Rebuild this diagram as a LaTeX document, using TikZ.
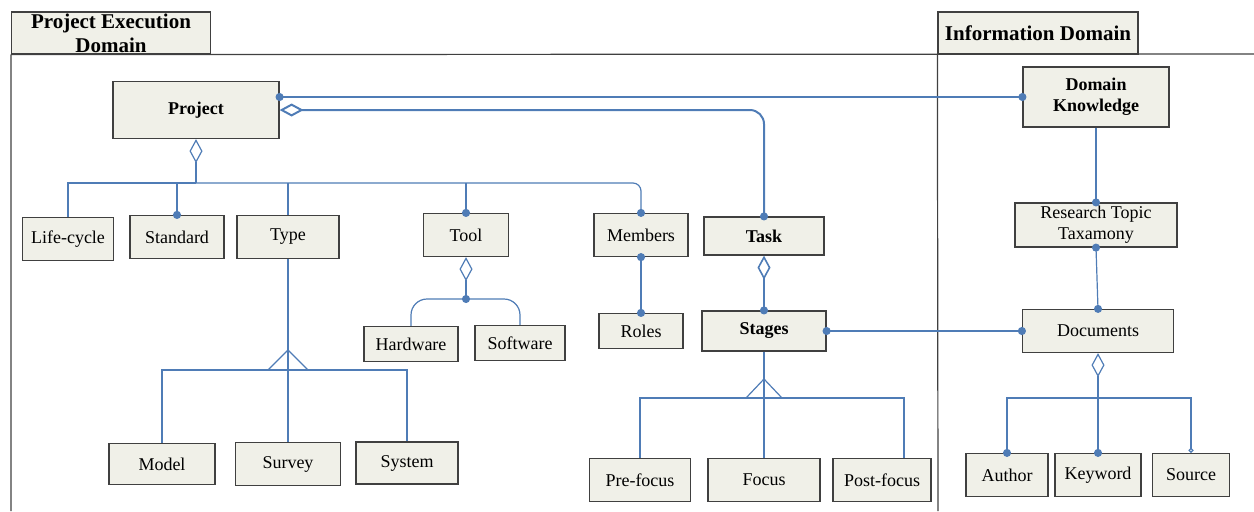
\documentclass[tikz,border=0pt]{standalone}
\usepackage{fontspec}
\setmainfont{Liberation Serif}
\newfontfamily\boxfont{Liberation Serif}
\usetikzlibrary{arrows.meta}
\definecolor{boxfill}{RGB}{240,240,232}
\definecolor{linkblue}{RGB}{79,124,182}
\definecolor{framegray}{RGB}{64,64,64}
\tikzset{
  jdot/.tip={Circle[length=4pt]},
  aggr/.tip={Diamond[open,length=12pt,width=6.5pt]},
  box/.style={draw=framegray,line width=0.6pt,fill=boxfill,inner sep=0pt,
    align=center,font=\boxfont\fontsize{9}{10.5}\selectfont},
  boldbox/.style={box,font=\boxfont\fontsize{9}{10.5}\selectfont\bfseries},
  headbox/.style={box,font=\boxfont\fontsize{10.5}{12}\selectfont\bfseries},
  frame/.style={draw=framegray,line width=0.6pt},
  link/.style={draw=linkblue,line width=0.6pt},
  boldlink/.style={draw=linkblue,line width=1pt},
  dotboth/.style={jdot-jdot,shorten <=-2pt,shorten >=-2pt},
  dotend/.style={-jdot,shorten >=-2pt},
  aggdot/.style={aggr-jdot,shorten >=-2pt},
  aggonly/.style={aggr-}
}
\begin{document}
\begin{tikzpicture}[x=0.5pt,y=-0.5pt]
  \useasboundingbox (0,0) rectangle (1254,511);
  % domains
  \node[headbox,minimum width=99.5pt,minimum height=21pt] (pedhead) at (111,33)
    {Project Execution\\Domain};
  \node[headbox,minimum width=100pt,minimum height=21pt] (idhead) at (1038,33)
    {Information Domain};
  \draw[frame] (pedhead.south west) -- (11,511);
  \draw[frame] (pedhead.south west) -- (1254,54);
  \draw[frame] (idhead.south west) -- (938,511);
  % project execution
  \node[boldbox,minimum width=83pt,minimum height=28.5pt] (project) at (196,110) {Project};
  \node[box,minimum width=45.5pt,minimum height=21.5pt] (lifecycle) at (68,239) {Life-cycle};
  \node[box,minimum width=47pt,minimum height=21.5pt] (standard) at (177,237) {Standard};
  \node[box,minimum width=51pt,minimum height=21.5pt] (type) at (288,237) {Type};
  \node[box,minimum width=42.5pt,minimum height=21.5pt] (tool) at (466,235) {Tool};
  \node[box,minimum width=47pt,minimum height=21.5pt] (members) at (641,235) {Members};
  \node[boldbox,minimum width=60pt,minimum height=19pt] (task) at (764,236) {Task};
  \node[box,minimum width=47pt,minimum height=17.5pt] (hardware) at (411,344) {Hardware};
  \node[box,minimum width=45pt,minimum height=17.5pt] (software) at (520,343) {Software};
  \node[box,minimum width=42pt,minimum height=17.5pt] (roles) at (641,331) {Roles};
  \node[boldbox,minimum width=62pt,minimum height=20pt] (stages) at (764,331) {Stages};
  \node[box,minimum width=53pt,minimum height=20.5pt] (model) at (162,464) {Model};
  \node[box,minimum width=52.5pt,minimum height=21.5pt] (survey) at (288,464) {Survey};
  \node[box,minimum width=51pt,minimum height=21pt] (system) at (407,463) {System};
  \node[box,minimum width=50.5pt,minimum height=21.5pt] (prefocus) at (640,480) {Pre-focus};
  \node[box,minimum width=56pt,minimum height=21.5pt] (focus) at (764,480) {Focus};
  \node[box,minimum width=49pt,minimum height=21.5pt] (postfocus) at (882,480) {Post-focus};
  % information
  \node[boldbox,minimum width=73pt,minimum height=30pt] (knowledge) at (1096,97)
    {Domain\\Knowledge};
  \node[box,minimum width=81pt,minimum height=22pt] (taxonomy) at (1096,225)
    {Research Topic\\Taxamony};
  \node[box,minimum width=75.5pt,minimum height=21.5pt] (documents) at (1098,331) {Documents};
  \node[box,minimum width=41pt,minimum height=21.5pt] (author) at (1007,475) {Author};
  \node[box,minimum width=43pt,minimum height=21.5pt] (keyword) at (1098,475) {Keyword};
  \node[box,minimum width=38.5pt,minimum height=21.5pt] (source) at (1191,475) {Source};
  % junctions
  \coordinate (projbus) at (196,183);
  \coordinate (toolbus) at (466,299);
  \coordinate (typetop) at (288,350);
  \coordinate (typebus) at (288,370);
  \coordinate (stagetop) at (764,379);
  \coordinate (stagebus) at (764,398);
  \coordinate (docbus) at (1098,398);
  % links
  \draw[boldlink,dotboth] (project.east |- knowledge.west) -- (knowledge.west);
  \draw[boldlink,aggdot,rounded corners=7pt] (project.east) -| (task.north);
  \draw[link,aggonly] (project.south) -- (projbus);
  \draw[boldlink] (lifecycle.north) |- (projbus);
  \draw[link,dotend,rounded corners=4pt] (projbus) -| (members.north);
  \draw[boldlink,dotend] (standard.north |- projbus) -- (standard.north);
  \draw[link] (type.north |- projbus) -- (type.north);
  \draw[boldlink,dotend] (tool.north |- projbus) -- (tool.north);
  \draw[link,aggdot] (tool.south) -- (toolbus);
  \draw[link,rounded corners=8pt] (hardware.north) |- (toolbus) -| (software.north);
  \draw[boldlink,dotboth] (members.south) -- (roles.north);
  \draw[link,line width=0.8pt,aggdot] (task.south) -- (stages.north);
  \draw[boldlink,dotboth] (stages.east) -- (documents.west);
  \draw[link,dotend] (knowledge.south) -- (taxonomy.north);
  \draw[link,dotboth] (taxonomy.south) -- (documents.north);
  \draw[link,aggonly] (documents.south) -- (docbus);
  \draw[link,dotend] (docbus) -| (author.north);
  \draw[link,dotend] (docbus) -- (keyword.north);
  \draw[link,-{Circle[open,length=2.5pt]}] (docbus) -| (source.north);
  % generalisation
  \draw[link] (type.south) -- (survey.north);
  \draw[link] ([xshift=-10]typebus) -- (typetop) -- ([xshift=10]typebus);
  \draw[link] (model.north) |- (typebus) -| (system.north);
  \draw[link] (stages.south) -- (focus.north);
  \draw[link] ([xshift=-9]stagebus) -- (stagetop) -- ([xshift=9]stagebus);
  \draw[link] (prefocus.north) |- (stagebus) -| ([xshift=11]postfocus.north);
\end{tikzpicture}
\end{document}
